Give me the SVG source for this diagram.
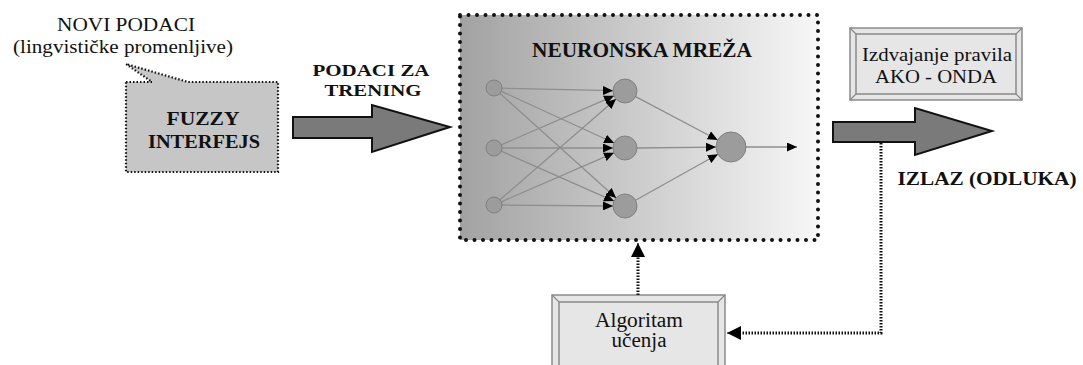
<svg xmlns="http://www.w3.org/2000/svg" width="1083" height="365" viewBox="0 0 1083 365">
<defs>
<linearGradient id="nnGrad" x1="0" y1="0" x2="1" y2="0">
<stop offset="0" stop-color="#a2a2a2"/>
<stop offset="1" stop-color="#f7f7f7"/>
</linearGradient>
<marker id="ah" markerUnits="userSpaceOnUse" markerWidth="10" markerHeight="9" refX="10" refY="4.5" orient="auto">
<path d="M0,0 L10,4.5 L0,9 z" fill="#000"/>
</marker>
<marker id="ahBig" markerUnits="userSpaceOnUse" markerWidth="14" markerHeight="14" refX="14" refY="7" orient="auto">
<path d="M0,0 L14,7 L0,14 z" fill="#000"/>
</marker>
</defs>
<style>
text{font-family:'Liberation Serif','Times New Roman',Times,serif;fill:#111}
.b{font-weight:bold}
.big{fill:#7a7a7a;stroke:#111;stroke-width:2;stroke-linejoin:miter}
.frame{fill:#e6e6e6;stroke:#8a8a8a;stroke-width:1.5}
.bevel{stroke:#8a8a8a;stroke-width:1.2;fill:none}
.nl{stroke:#8e8e8e;stroke-width:1.3;fill:none;marker-end:url(#ah)}
.nd{fill:#9c9c9c;stroke:#808080;stroke-width:1}
.dotc{stroke:#111;stroke-width:3;stroke-dasharray:1.5 1.5;fill:none}
</style>

<g id="novi-podaci">
<text x="126" y="31" font-size="19" text-anchor="middle" textLength="138" lengthAdjust="spacingAndGlyphs">NOVI PODACI</text>
<text x="123" y="53" font-size="19" text-anchor="middle" textLength="220" lengthAdjust="spacingAndGlyphs">(lingvističke promenljive)</text>
</g>

<g id="fuzzy-interfejs">
<path d="M126,82 L152,82 L126,64 L188,82 L278,82 L278,172 L126,172 Z" fill="#c6c6c6" stroke="#111" stroke-width="2.2" stroke-dasharray="1.5 2"/>
<text class="b" x="203" y="125" font-size="19" text-anchor="middle" textLength="73" lengthAdjust="spacingAndGlyphs">FUZZY</text>
<text class="b" x="204" y="148" font-size="19" text-anchor="middle" textLength="112" lengthAdjust="spacingAndGlyphs">INTERFEJS</text>
</g>

<g id="podaci-za-trening">
<text class="b" x="371" y="76" font-size="17" text-anchor="middle" textLength="117" lengthAdjust="spacingAndGlyphs">PODACI ZA</text>
<text class="b" x="373" y="96" font-size="17" text-anchor="middle" textLength="97" lengthAdjust="spacingAndGlyphs">TRENING</text>
</g>

<g id="neuronska-mreza">
<rect x="460" y="15" width="358" height="225" fill="url(#nnGrad)"/>
<rect x="460" y="15" width="358" height="225" fill="none" stroke="#111" stroke-width="4" stroke-linecap="round" stroke-dasharray="0 8.5"/>
<text class="b" x="642" y="57" font-size="21" text-anchor="middle" textLength="220" lengthAdjust="spacingAndGlyphs">NEURONSKA MREŽA</text>
<g id="net-links">
<path class="nl" d="M502,88.2 L613,90.7"/>
<path class="nl" d="M501.3,91.3 L614.1,143"/>
<path class="nl" d="M499.9,93.4 L616.1,198"/>
<path class="nl" d="M501.3,144.8 L614,95.8"/>
<path class="nl" d="M502,148 L613,148"/>
<path class="nl" d="M501.3,151.2 L614,201.1"/>
<path class="nl" d="M500,199.8 L616,99.1"/>
<path class="nl" d="M501.3,201.8 L614,152.8"/>
<path class="nl" d="M502,205 L613,206"/>
<path class="nl" d="M635.6,96.6 L717.7,140"/>
<path class="nl" d="M637,148 L716,147.1"/>
<path class="nl" d="M635.5,200.2 L717.9,154.3"/>
<path class="nl" d="M746,147 L797,147"/>
</g>
<circle class="nd" cx="494" cy="88" r="8"/>
<circle class="nd" cx="494" cy="148" r="8"/>
<circle class="nd" cx="494" cy="205" r="8"/>
<circle class="nd" cx="625" cy="91" r="12"/>
<circle class="nd" cx="625" cy="148" r="12"/>
<circle class="nd" cx="625" cy="206" r="12"/>
<circle class="nd" cx="731" cy="147" r="15"/>
</g>

<g id="izdvajanje-pravila">
<rect class="frame" x="850" y="28" width="172" height="72"/>
<rect class="frame" x="856" y="34" width="160" height="60"/>
<path class="bevel" d="M850,28 L856,34 M1022,28 L1016,34 M850,100 L856,94 M1022,100 L1016,94"/>
<text x="937" y="61" font-size="19" text-anchor="middle" textLength="150" lengthAdjust="spacingAndGlyphs">Izdvajanje pravila</text>
<text x="936" y="83" font-size="19" text-anchor="middle" textLength="122" lengthAdjust="spacingAndGlyphs">AKO - ONDA</text>
</g>

<g id="izlaz">
<text class="b" x="987" y="185" font-size="19" text-anchor="middle" textLength="179" lengthAdjust="spacingAndGlyphs">IZLAZ (ODLUKA)</text>
</g>

<g id="algoritam-ucenja">
<rect class="frame" x="552" y="295" width="173" height="80"/>
<rect class="frame" x="559" y="302" width="159" height="66"/>
<path class="bevel" d="M552,295 L559,302 M725,295 L718,302"/>
<text x="639" y="327" font-size="20" text-anchor="middle" textLength="88" lengthAdjust="spacingAndGlyphs">Algoritam</text>
<text x="639" y="347" font-size="20" text-anchor="middle" textLength="55" lengthAdjust="spacingAndGlyphs">učenja</text>
</g>

<g id="connectors">
<path class="big" d="M293,117 L372,117 L372,105 L450,127 L372,152 L372,138 L293,138 Z"/>
<path class="big" d="M833,122 L915,122 L915,108 L992,131 L915,155 L915,142 L833,142 Z"/>
<path class="dotc" d="M881,143 L881,333 L740,333"/>
<path d="M740,333 L727,333" stroke="#000" stroke-width="1" marker-end="url(#ahBig)"/>
<path class="dotc" d="M638,295 L638,256"/>
<path d="M638,256 L638,243" stroke="#000" stroke-width="1" marker-end="url(#ahBig)"/>
</g>
</svg>
